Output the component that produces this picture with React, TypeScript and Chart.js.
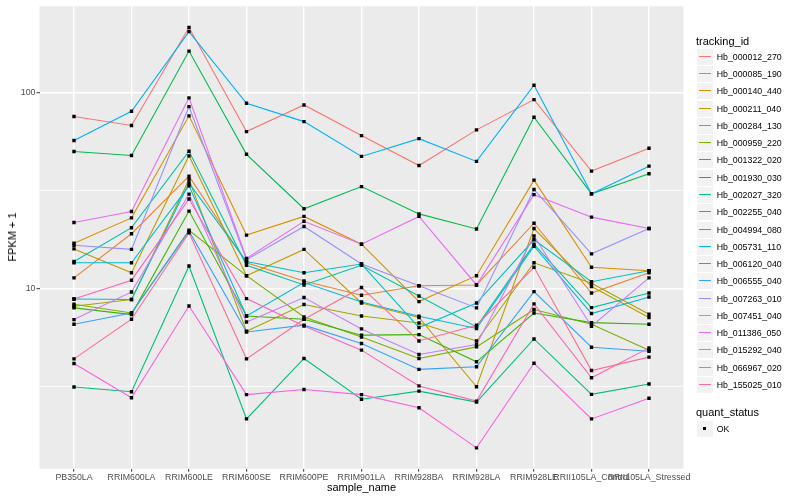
import React, { useEffect, useRef } from 'react';
import { Chart, registerables } from 'chart.js';

Chart.register(...registerables);

const sampleNames = [
  'PB350LA', 'RRIM600LA', 'RRIM600LE', 'RRIM600SE', 'RRIM600PE', 'RRIM901LA',
  'RRIM928BA', 'RRIM928LA', 'RRIM928LE', 'RRII105LA_Control', 'RRII105LA_Stressed',
];

const trackingIds = [
  'Hb_000012_270', 'Hb_000085_190', 'Hb_000140_440', 'Hb_000211_040', 'Hb_000284_130',
  'Hb_000959_220', 'Hb_001322_020', 'Hb_001930_030', 'Hb_002027_320', 'Hb_002255_040',
  'Hb_004994_080', 'Hb_005731_110', 'Hb_006120_040', 'Hb_006555_040', 'Hb_007263_010',
  'Hb_007451_040', 'Hb_011386_050', 'Hb_015292_040', 'Hb_066967_020', 'Hb_155025_010',
];

const seriesColors = [
  '#F8766D', '#EA8331', '#D89000', '#C09B00', '#A3A500',
  '#7CAE00', '#39B600', '#00BB4E', '#00BF7D', '#00C1A3',
  '#00BFC4', '#00BAE0', '#00B0F6', '#35A2FF', '#9590FF',
  '#C77CFF', '#E76BF3', '#FA62DB', '#FF62BC', '#FF6C91',
];

const quantStatus = ['OK'];
const yMajorTicks = [10, 100];
const yMinorTicks = [3.1623, 31.623];

// FPKM + 1 per sample (same order as sampleNames)
const hb000012_270 = [75.5, 67.9, 215, 63.2, 86.5, 60.3, 42.4, 64.5, 92.1, 39.7, 52.0];
const hb000085_190 = [11.3, 19.0, 37.4, 13.5, 10.9, 9.21, 10.3, 10.4, 21.5, 9.46, 12.0];
const hb000140_440 = [17.0, 22.9, 76.1, 18.7, 23.3, 16.8, 8.55, 11.6, 35.7, 12.8, 12.3];
const hb000211_040 = [15.9, 12.0, 47.5, 11.6, 15.8, 8.41, 7.09, 3.14, 20.2, 10.2, 7.09];
const hb000284_130 = [8.09, 8.76, 35.9, 6.03, 8.26, 7.22, 6.65, 5.38, 13.5, 10.6, 7.37];
const hb000959_220 = [8.29, 7.48, 19.8, 11.6, 7.14, 5.64, 4.38, 5.02, 7.79, 6.55, 4.83];
const hb001322_020 = [7.94, 7.34, 24.8, 7.22, 6.95, 5.76, 5.80, 4.21, 7.48, 6.68, 6.55];
const hb001930_030 = [50.0, 47.7, 163, 48.4, 25.5, 33.1, 24.0, 20.1, 74.8, 30.4, 38.5];
const hb002027_320 = [3.13, 2.96, 13.0, 2.15, 4.38, 2.71, 2.98, 2.62, 5.51, 2.87, 3.24];
const hb002255_040 = [13.7, 20.4, 50.2, 13.1, 10.4, 13.1, 9.14, 6.35, 16.8, 7.97, 9.46];
const hb004994_080 = [8.82, 8.76, 34.5, 13.7, 12.0, 13.3, 6.30, 8.41, 17.7, 10.8, 12.3];
const hb005731_110 = [13.5, 13.5, 33.4, 7.22, 10.7, 8.51, 7.20, 6.23, 16.4, 7.43, 9.03];
const hb006120_040 = [56.9, 80.3, 205, 88.2, 71.1, 47.2, 58.2, 44.5, 109, 30.4, 42.1];
const hb006555_040 = [6.55, 7.48, 19.6, 5.98, 6.48, 5.22, 3.85, 3.97, 9.62, 5.0, 4.77];
const hb007263_010 = [16.6, 15.8, 84.8, 14.0, 20.7, 13.3, 10.3, 7.94, 32.0, 15.0, 20.2];
const hb007451_040 = [6.92, 9.58, 30.3, 6.73, 8.97, 6.20, 4.59, 5.16, 18.5, 6.40, 11.3];
const hb011386_050 = [21.7, 24.7, 94.0, 14.2, 22.0, 16.8, 23.3, 10.4, 30.1, 23.1, 20.2];
const hb015292_040 = [4.13, 2.76, 8.12, 2.86, 3.04, 2.86, 2.45, 1.53, 4.14, 2.15, 2.74];
const hb066967_020 = [8.82, 11.0, 28.6, 8.86, 6.42, 4.83, 3.17, 2.65, 8.32, 3.49, 4.96];
const hb155025_010 = [4.36, 6.95, 19.2, 4.36, 6.95, 10.1, 5.38, 6.48, 12.8, 3.80, 4.45];

const seriesValues = [
  hb000012_270, hb000085_190, hb000140_440, hb000211_040, hb000284_130,
  hb000959_220, hb001322_020, hb001930_030, hb002027_320, hb002255_040,
  hb004994_080, hb005731_110, hb006120_040, hb006555_040, hb007263_010,
  hb007451_040, hb011386_050, hb015292_040, hb066967_020, hb155025_010,
];

const FONT = '"Liberation Sans", Arial, Helvetica, sans-serif';

const panelBg = {
  id: 'panelBg',
  beforeDraw(chart: any) {
    const { ctx, chartArea: a } = chart;
    ctx.save();
    ctx.fillStyle = '#EBEBEB';
    ctx.fillRect(a.left, a.top, a.right - a.left, a.bottom - a.top);
    ctx.restore();
  },
};

const isMajor = (v: number) => yMajorTicks.includes(v);

export default function App() {
  const ref = useRef<HTMLCanvasElement>(null);

  useEffect(() => {
    if (!ref.current) return;
    const lineSets = seriesValues.map((vals, i) => ({
      label: trackingIds[i],
      data: vals.map((v, j) => ({ x: j, y: v })),
      borderColor: seriesColors[i],
      backgroundColor: seriesColors[i],
      borderWidth: 1.1,
      pointRadius: 0,
      fill: false,
      tension: 0,
      order: seriesValues.length - i,
    }));
    const pointSet = {
      label: 'quant_status ' + quantStatus[0],
      data: seriesValues.flatMap((vals) => vals.map((v, j) => ({ x: j, y: v }))),
      showLine: false,
      pointStyle: 'rect',
      pointRadius: 2.4,
      pointBackgroundColor: '#000000',
      pointBorderWidth: 0,
      borderColor: '#000000',
      backgroundColor: '#000000',
      order: -1,
    };

    const chart = new Chart(ref.current, {
      type: 'line',
      data: { datasets: [...lineSets, pointSet] as any },
      options: {
        responsive: false,
        animation: false,
        events: [],
        layout: { padding: { left: 0, top: 5.5, right: 116.5, bottom: 0 } },
        plugins: {
          legend: { display: false },
          tooltip: { enabled: false },
          title: { display: false },
        },
        scales: {
          x: {
            type: 'linear',
            min: -0.6,
            max: 10.6,
            afterBuildTicks: (s: any) => {
              s.ticks = sampleNames.map((_, i) => ({ value: i }));
            },
            afterFit: (s: any) => {
              s.height = 31.3;
            },
            border: { display: false },
            grid: {
              color: '#FFFFFF',
              lineWidth: 1.4,
              drawTicks: true,
              tickLength: 3,
              tickColor: '#333333',
              tickWidth: 1,
            },
            ticks: {
              autoSkip: false,
              maxRotation: 0,
              minRotation: 0,
              padding: 1,
              color: '#4D4D4D',
              font: { family: FONT, size: 8.8 },
              callback: (v: any) => sampleNames[Number(v)] ?? '',
            },
          },
          y: {
            type: 'logarithmic',
            min: 1.1968,
            max: 276.2,
            afterBuildTicks: (s: any) => {
              s.ticks = [...yMinorTicks, ...yMajorTicks]
                .sort((a, b) => a - b)
                .map((v) => ({ value: v, major: isMajor(v) }));
            },
            afterFit: (s: any) => {
              s.width = 39.5;
            },
            border: { display: false },
            grid: {
              color: '#FFFFFF',
              lineWidth: (c: any) => (c.tick && isMajor(c.tick.value) ? 1.4 : 0.7),
              drawTicks: true,
              tickLength: 3,
              tickColor: (c: any) => (c.tick && isMajor(c.tick.value) ? '#333333' : 'rgba(0,0,0,0)'),
              tickWidth: 1,
            },
            ticks: {
              padding: 1,
              color: '#4D4D4D',
              font: { family: FONT, size: 8.8 },
              callback: (v: any) => (isMajor(Number(v)) ? String(v) : ''),
            },
          },
        },
      } as any,
      plugins: [panelBg],
    });
    return () => chart.destroy();
  }, []);

  const step = 17.28;
  const firstRow = 56.7;
  const textStyle: React.CSSProperties = {
    position: 'absolute',
    fontFamily: FONT,
    color: '#000000',
    whiteSpace: 'nowrap',
    display: 'flex',
    alignItems: 'center',
  };

  return (
    <div
      style={{
        position: 'absolute',
        left: 0,
        top: 0,
        width: 800,
        height: 500,
        background: '#FFFFFF',
        overflow: 'hidden',
      }}
    >
      <canvas
        ref={ref}
        width={800}
        height={500}
        style={{ position: 'absolute', left: 0, top: 0, width: 800, height: 500, display: 'block' }}
      />
      {/* axis titles */}
      <div
        style={{
          ...textStyle,
          left: 12,
          top: 237,
          fontSize: 11,
          transform: 'translate(-50%, -50%) rotate(-90deg)',
        }}
      >
        FPKM + 1
      </div>
      <div
        style={{
          ...textStyle,
          left: 361.5,
          top: 487,
          fontSize: 11,
          transform: 'translate(-50%, -50%)',
        }}
      >
        sample_name
      </div>

      {/* legend: tracking_id */}
      <div style={{ ...textStyle, left: 696, top: 40.7 - 8, height: 16, fontSize: 11 }}>tracking_id</div>
      {trackingIds.map((id, i) => {
        const cy = Math.round(firstRow + i * step);
        return (
          <React.Fragment key={id}>
            <div
              style={{
                position: 'absolute',
                left: 697,
                top: cy - 8,
                width: 16,
                height: 16,
                background: '#F2F2F2',
              }}
            >
              <div
                style={{
                  position: 'absolute',
                  left: 2,
                  width: 12,
                  top: 7,
                  height: 1,
                  background: seriesColors[i],
                }}
              />
            </div>
            <div style={{ ...textStyle, left: 716.7, top: cy - 6, height: 12, fontSize: 8.8 }}>{id}</div>
          </React.Fragment>
        );
      })}

      {/* legend: quant_status */}
      <div style={{ ...textStyle, left: 696, top: 412.3 - 8, height: 16, fontSize: 11 }}>quant_status</div>
      {quantStatus.map((q, i) => {
        const cy = Math.round(429.3 + i * step);
        return (
          <React.Fragment key={q}>
            <div
              style={{
                position: 'absolute',
                left: 697,
                top: cy - 8,
                width: 16,
                height: 16,
                background: '#F2F2F2',
              }}
            >
              <div
                style={{
                  position: 'absolute',
                  left: 6,
                  top: 6,
                  width: 3,
                  height: 3,
                  background: '#000000',
                }}
              />
            </div>
            <div style={{ ...textStyle, left: 716.7, top: cy - 6, height: 12, fontSize: 8.8 }}>{q}</div>
          </React.Fragment>
        );
      })}
    </div>
  );
}
